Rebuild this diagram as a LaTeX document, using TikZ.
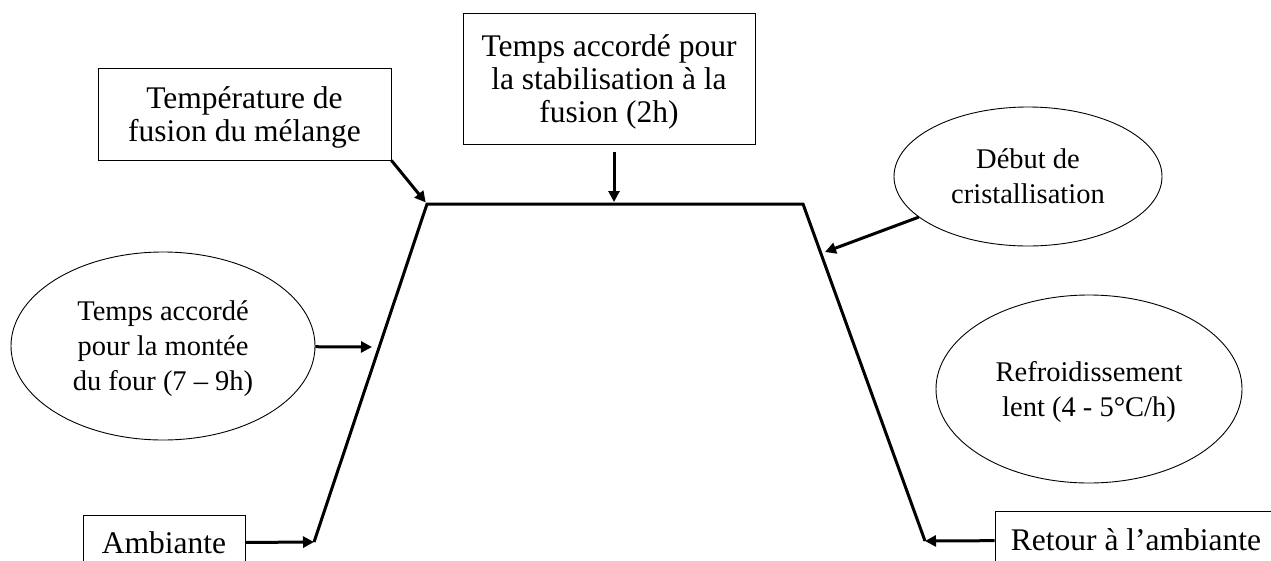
\documentclass[tikz,border=0pt]{standalone}
\usepackage{fontspec}
\setmainfont{Liberation Serif}
\usetikzlibrary{shapes.geometric, arrows.meta}
\tikzset{
  phasebox/.style={rectangle, draw=black, line width=0.9pt, inner sep=0pt,
                   text depth=0pt, align=center, font=\fontsize{31.5}{33}\selectfont},
  phaseoval/.style={ellipse, draw=black, line width=0.9pt, inner sep=0pt,
                    text depth=0pt, align=center, font=\fontsize{28.5}{35}\selectfont},
  link/.style={-{Triangle[length=11pt,width=11pt]}, line width=3pt},
  profile/.style={line width=3pt},
}

\begin{document}
\begin{tikzpicture}[x=1pt, y=-1pt]
  \useasboundingbox (0,0) rectangle (1271,560);
  \clip (0,0) rectangle (1271,560);

  % Corners of the firing curve
  \coordinate (bl)   at (314,542);
  \coordinate (tl)   at (427,204);
  \coordinate (tr)   at (803,204);
  \coordinate (br)   at (925,541);
  \coordinate (plat) at (614,204);
  \coordinate (rise) at (372,347);
  \coordinate (fall) at (825,252);

  \draw[profile] (bl) -- (tl) -- (tr) -- (br);

  % Labels round the curve
  \node[phasebox, minimum width=293pt, minimum height=92pt]
                                      (temp) at (244.5,114) {Température de\\fusion du mélange};
  \node[phasebox, minimum width=292pt, minimum height=131pt]
                                      (stab) at (609,78.5) {Temps accordé pour\\la stabilisation à la\\fusion (2h)};
  \node[phaseoval, minimum width=304pt, minimum height=188pt]
                                      (mont) at (163,346) {Temps accordé\\pour la montée\\du four (7 – 9h)};
  \node[phaseoval, minimum width=268pt, minimum height=139pt]
                                      (deb)  at (1028,176.5) {Début de\\cristallisation};
  \node[phaseoval, minimum width=306pt, minimum height=188pt]
                                      (refr) at (1089,389) {Refroidissement\\lent (4 - 5°C/h)};
  \node[phasebox, minimum width=162pt, minimum height=56pt]
                                      (amb)  at (164,543) {Ambiante};
  \node[phasebox, minimum width=282pt, minimum height=58pt]
                                      (ret)  at (1136,540) {Retour à l’ambiante};

  % Links
  \draw[link, shorten >=2pt] (temp.south east) -- (tl);
  \draw[link, shorten <=8pt, shorten >=2pt] (stab.south -| plat) -- (plat);
  \draw[link] (mont) -- (rise);
  \draw[link] (deb) -- (fall);
  \draw[link] (amb) -- (bl);
  \draw[link] (ret) -- (br);

\end{tikzpicture}
\end{document}
